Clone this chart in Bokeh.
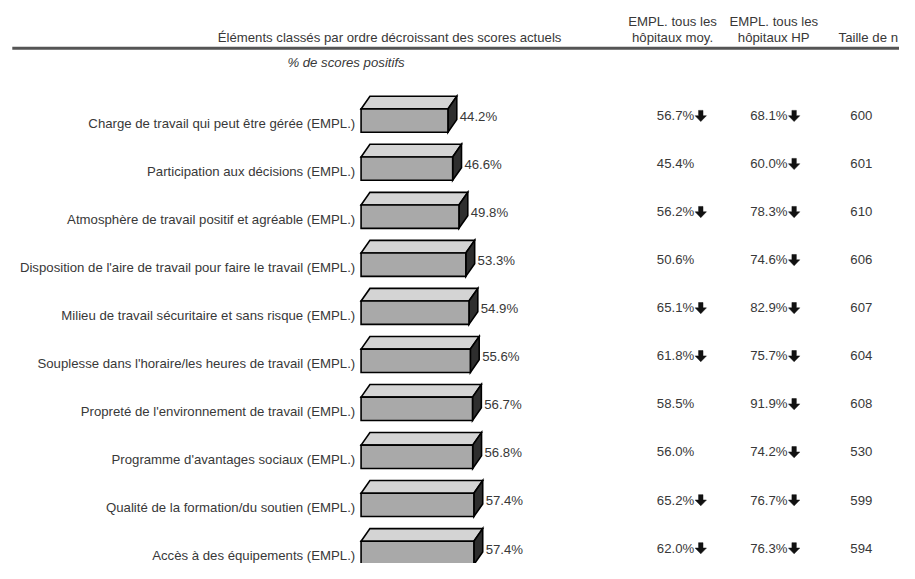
from bokeh.plotting import figure
from bokeh.models import Range1d, ColumnDataSource
from bokeh.core.properties import value
from bokeh.embed import file_html
from bokeh.resources import INLINE

# ---------------- data ----------------
labels = [
    "Charge de travail qui peut être gérée (EMPL.)",
    "Participation aux décisions (EMPL.)",
    "Atmosphère de travail positif et agréable (EMPL.)",
    "Disposition de l'aire de travail pour faire le travail (EMPL.)",
    "Milieu de travail sécuritaire et sans risque (EMPL.)",
    "Souplesse dans l'horaire/les heures de travail (EMPL.)",
    "Propreté de l'environnement de travail (EMPL.)",
    "Programme d'avantages sociaux (EMPL.)",
    "Qualité de la formation/du soutien (EMPL.)",
    "Accès à des équipements (EMPL.)",
]
scores = [44.2, 46.6, 49.8, 53.3, 54.9, 55.6, 56.7, 56.8, 57.4, 57.4]
moy = [56.7, 45.4, 56.2, 50.6, 65.1, 61.8, 58.5, 56.0, 65.2, 62.0]
moy_down = [True, False, True, False, True, True, False, False, True, True]
hp = [68.1, 60.0, 78.3, 74.6, 82.9, 75.7, 91.9, 74.2, 76.7, 76.3]
hp_down = [True] * 10
n_size = [600, 601, 610, 606, 607, 604, 608, 530, 599, 594]

header_title = "Éléments classés par ordre décroissant des scores actuels"
header_moy = ["EMPL. tous les", "hôpitaux moy."]
header_hp = ["EMPL. tous les", "hôpitaux HP"]
header_n = "Taille de n"
subtitle = "% de scores positifs"

# ---------------- layout ----------------
W, H = 899, 563          # figure size (fits window with 8px margin)
IMG_W, IMG_H = 915, 579  # reference picture size
X0_IMG = 367             # reference x of 0 %
PX_PCT = 2.0             # reference pixels per percent
ROW0_IMG = 123.5         # reference y of first row centre
ROW_PX = 49.4            # reference pixels per row


def xpx(px):
    return (px - X0_IMG) / PX_PCT


def ypx(py):
    return -(py - ROW0_IMG) / ROW_PX


def dxp(px):
    return px / PX_PCT


def dyp(py):
    return py / ROW_PX


p = figure(width=W, height=H, x_range=Range1d(xpx(0), xpx(IMG_W)),
           y_range=Range1d(ypx(IMG_H), ypx(0)), output_backend="svg",
           toolbar_location=None, min_border=0)
p.axis.visible = False
p.grid.visible = False
p.outline_line_color = None
p.background_fill_color = "white"
p.border_fill_color = "white"

FONT = value("Liberation Sans")
FS = "13.2px"
TXT = "#383838"

rows = list(range(len(labels)))
ys = [-i for i in rows]
hh = dyp(12)       # half height of front face
ddx = dxp(9)       # depth x
ddy = dyp(13)      # depth y

src = ColumnDataSource(dict(left=[0] * len(scores), right=scores,
                            bottom=[y - hh for y in ys], top=[y + hh for y in ys]))
top_xs, top_ys, side_xs, side_ys = [], [], [], []
for v, y in zip(scores, ys):
    t = y + hh
    b = y - hh
    top_xs.append([0, v, v + ddx, ddx])
    top_ys.append([t, t, t + ddy, t + ddy])
    side_xs.append([v, v + ddx, v + ddx, v])
    side_ys.append([b, b + ddy, t + ddy, t])

p.patches(top_xs, top_ys, fill_color="#d4d4d4", line_color="black", line_width=1.6,
          line_join="miter")
p.patches(side_xs, side_ys, fill_color="#2e2e2e", line_color="black", line_width=1.6,
          line_join="miter")
p.quad(left="left", right="right", bottom="bottom", top="top", source=src,
       fill_color="#a9a9a9", line_color="black", line_width=1.6, line_join="miter")

# value labels next to bars
p.text(x=[v + ddx + dxp(3) for v in scores], y=[y + dyp(4) for y in ys],
       text=[f"{v:.1f}%" for v in scores], text_font=FONT, text_font_size=FS,
       text_color=TXT, text_baseline="middle", text_align="left")

# category labels
p.text(x=[xpx(361)] * len(labels), y=[y - dyp(3) for y in ys], text=labels,
       text_font=FONT, text_font_size=FS, text_color=TXT,
       text_baseline="middle", text_align="right")

# comparison columns
COL_MOY, COL_HP, COL_N = 668, 763, 865
vy = [y + dyp(5) for y in ys]
p.text(x=[xpx(COL_MOY)] * 10, y=vy, text=[f"{v:.1f}%" for v in moy], text_font=FONT,
       text_font_size=FS, text_color=TXT, text_baseline="middle", text_align="left")
p.text(x=[xpx(COL_HP)] * 10, y=vy, text=[f"{v:.1f}%" for v in hp], text_font=FONT,
       text_font_size=FS, text_color=TXT, text_baseline="middle", text_align="left")
p.text(x=[xpx(COL_N)] * 10, y=vy, text=[str(v) for v in n_size],
       text_font=FONT, text_font_size=FS, text_color=TXT, text_baseline="middle",
       text_align="left")


# down arrows (drawn shapes), placed just after the "dd.d%" text
def arrow(x_left_img, yc):
    # shape in reference pixels: shaft on top, head below
    sx = [2.5, 7.0, 7.0, 10.5, 4.75, -1.0, 2.5]
    sy = [-5.5, -5.5, 0.0, 0.0, 6.0, 0.0, 0.0]
    return ([xpx(x_left_img + a) for a in sx], [yc - dyp(b) for b in sy])


ax, ay = [], []
for col_x, downs in ((COL_MOY + 40, moy_down), (COL_HP + 40, hp_down)):
    for y, d in zip(vy, downs):
        if d:
            xs_, ys_ = arrow(col_x, y)
            ax.append(xs_)
            ay.append(ys_)
p.patches(ax, ay, fill_color="#111111", line_color="#111111", line_width=0.5)

# headers
p.text(x=[xpx(396)], y=[ypx(38)], text=[header_title], text_font=FONT,
       text_font_size=FS, text_color=TXT, text_baseline="middle", text_align="center")
p.text(x=[xpx(684)] * 2, y=[ypx(22), ypx(38)], text=header_moy, text_font=FONT,
       text_font_size=FS, text_color=TXT, text_baseline="middle", text_align="center")
p.text(x=[xpx(787)] * 2, y=[ypx(22), ypx(38)], text=header_hp, text_font=FONT,
       text_font_size=FS, text_color=TXT, text_baseline="middle", text_align="center")
p.text(x=[xpx(853)], y=[ypx(38)], text=[header_n], text_font=FONT,
       text_font_size=FS, text_color=TXT, text_baseline="middle", text_align="left")

# separator line
p.segment(x0=[xpx(12)], y0=[ypx(49)], x1=[xpx(IMG_W)], y1=[ypx(49)],
          line_color="#555555", line_width=3)

p.text(x=[xpx(292)], y=[ypx(64)], text=[subtitle], text_font=FONT,
       text_font_size=FS, text_font_style="italic", text_color=TXT,
       text_baseline="middle", text_align="left")

open("out.html", "w").write(file_html(p, INLINE))
